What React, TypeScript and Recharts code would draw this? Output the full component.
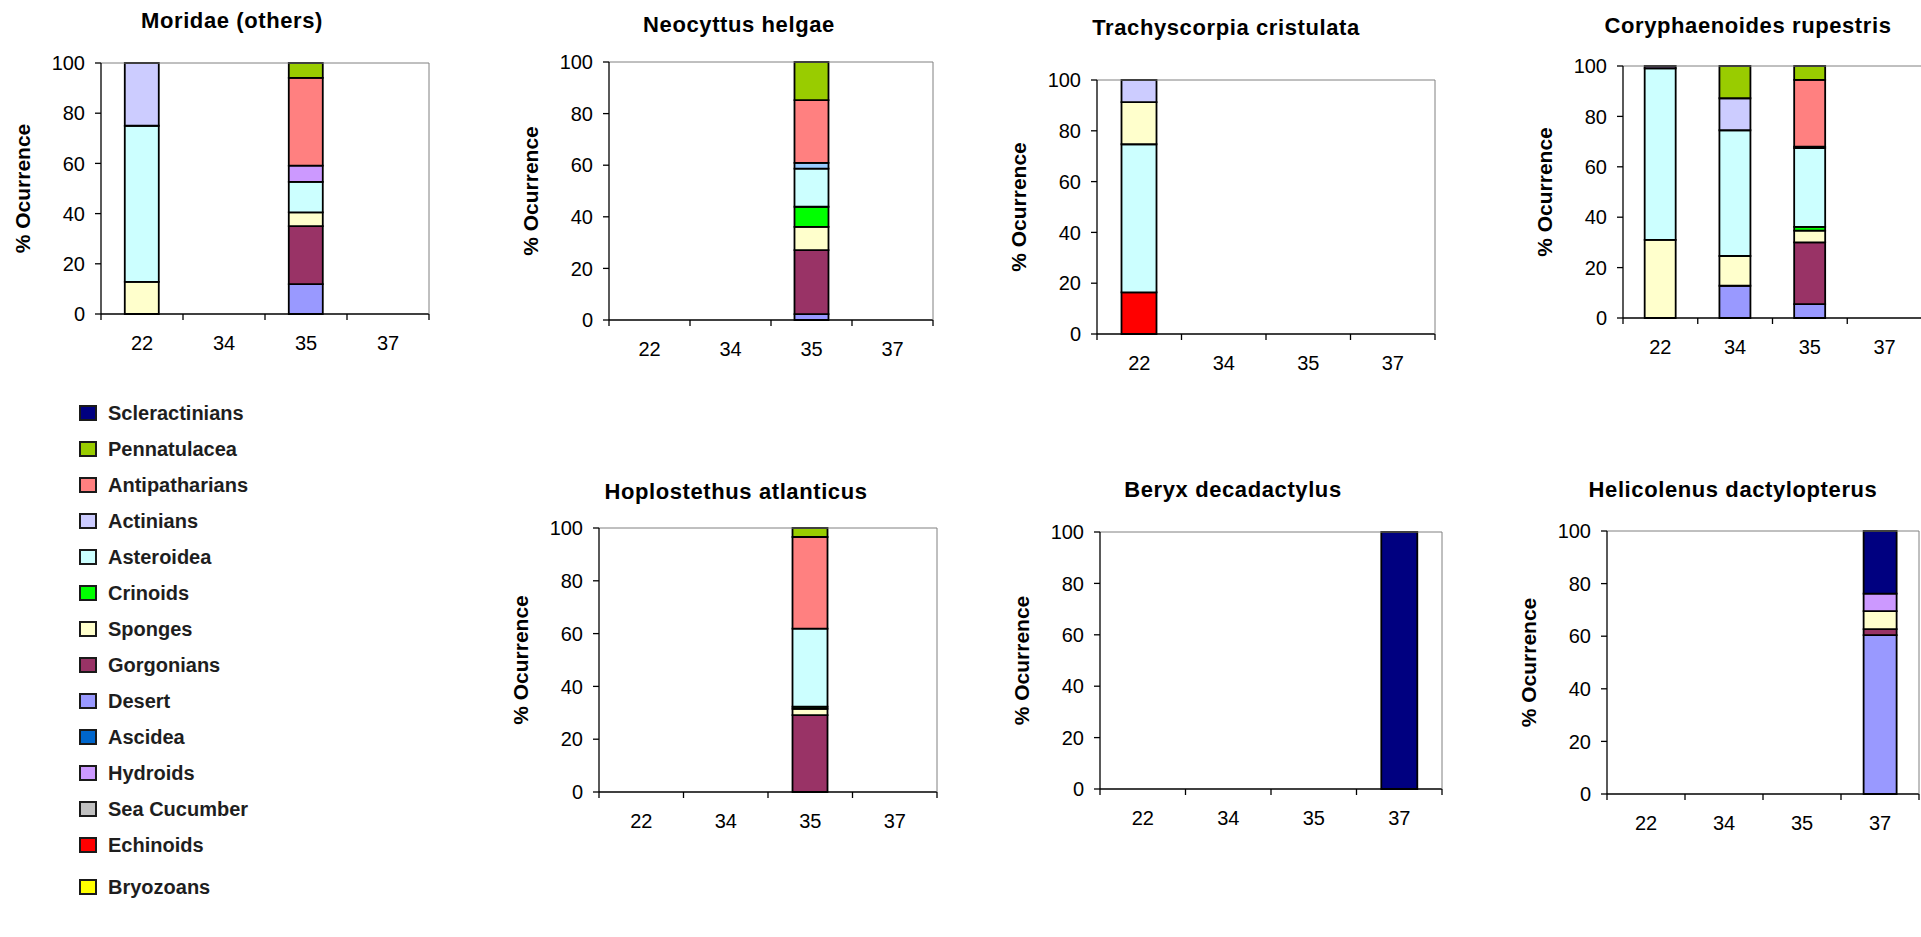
import React from "react";
import { BarChart, Bar, XAxis, YAxis } from "recharts";

const sites = ["22", "34", "35", "37"];
const yTicks = [0, 20, 40, 60, 80, 100];

const legendOrder = [
  "Scleractinians", "Pennatulacea", "Antipatharians", "Actinians", "Asteroidea",
  "Crinoids", "Sponges", "Gorgonians", "Desert", "Ascidea", "Hydroids",
  "Sea Cucumber", "Echinoids", "Bryozoans",
];

const colors: Record<string, string> = {
  Scleractinians: "#000080",
  Pennatulacea: "#99CC00",
  Antipatharians: "#FF8080",
  Actinians: "#CCCCFF",
  Asteroidea: "#CCFFFF",
  Crinoids: "#00FF00",
  Sponges: "#FFFFCC",
  Gorgonians: "#993366",
  Desert: "#9999FF",
  Ascidea: "#0066CC",
  Hydroids: "#CC99FF",
  "Sea Cucumber": "#C0C0C0",
  Echinoids: "#FF0000",
  Bryozoans: "#FFFF00",
  Other: "#99CCFF",
};

// % occurrence per site (22, 34, 35, 37), listed bottom-to-top of each stack
const moridae: Record<string, number[]> = {
  Desert: [0, 0, 11.9, 0],
  Gorgonians: [0, 0, 23.1, 0],
  Sponges: [12.8, 0, 5.5, 0],
  Asteroidea: [62.2, 0, 12.1, 0],
  Hydroids: [0, 0, 6.5, 0],
  Actinians: [25, 0, 0, 0],
  Antipatharians: [0, 0, 35, 0],
  Pennatulacea: [0, 0, 5.9, 0],
};

const neocyttus: Record<string, number[]> = {
  Desert: [0, 0, 2.3, 0],
  Gorgonians: [0, 0, 24.8, 0],
  Sponges: [0, 0, 9, 0],
  Crinoids: [0, 0, 7.8, 0],
  Asteroidea: [0, 0, 14.8, 0],
  Other: [0, 0, 2.2, 0],
  Antipatharians: [0, 0, 24.3, 0],
  Pennatulacea: [0, 0, 14.8, 0],
};

const trachyscorpia: Record<string, number[]> = {
  Echinoids: [16.4, 0, 0, 0],
  Asteroidea: [58.3, 0, 0, 0],
  Sponges: [16.6, 0, 0, 0],
  Actinians: [8.7, 0, 0, 0],
};

const coryphaenoides: Record<string, number[]> = {
  Desert: [0, 12.8, 5.5, 0],
  Gorgonians: [0, 0, 24.5, 0],
  Sponges: [31, 11.8, 4.7, 0],
  Crinoids: [0, 0, 1.5, 0],
  Asteroidea: [68.1, 49.9, 31.2, 0],
  Hydroids: [0.9, 0, 0.6, 0],
  Actinians: [0, 12.7, 0, 0],
  Antipatharians: [0, 0, 26.5, 0],
  Pennatulacea: [0, 12.8, 5.5, 0],
};

const hoplostethus: Record<string, number[]> = {
  Gorgonians: [0, 0, 29.1, 0],
  Sponges: [0, 0, 2.4, 0],
  Crinoids: [0, 0, 0.8, 0],
  Asteroidea: [0, 0, 29.6, 0],
  Antipatharians: [0, 0, 34.7, 0],
  Pennatulacea: [0, 0, 3.4, 0],
};

const beryx: Record<string, number[]> = {
  Scleractinians: [0, 0, 0, 100],
};

const helicolenus: Record<string, number[]> = {
  Desert: [0, 0, 0, 60.4],
  Gorgonians: [0, 0, 0, 2.3],
  Sponges: [0, 0, 0, 6.8],
  Hydroids: [0, 0, 0, 6.7],
  Scleractinians: [0, 0, 0, 23.8],
};

// layout: plot rect [left, top, width, height] and title centre, page pixels
const panels = [
  { title: "Moridae (others)", values: moridae, plot: [101, 63, 328, 251], titleAt: [232, 21] },
  { title: "Neocyttus helgae", values: neocyttus, plot: [609, 62, 324, 258], titleAt: [739, 25] },
  { title: "Trachyscorpia cristulata", values: trachyscorpia, plot: [1097, 80, 338, 254], titleAt: [1226, 28] },
  { title: "Coryphaenoides rupestris", values: coryphaenoides, plot: [1623, 66, 299, 252], titleAt: [1748, 26] },
  { title: "Hoplostethus atlanticus", values: hoplostethus, plot: [599, 528, 338, 264], titleAt: [736, 492] },
  { title: "Beryx decadactylus", values: beryx, plot: [1100, 532, 342, 257], titleAt: [1233, 490] },
  { title: "Helicolenus dactylopterus", values: helicolenus, plot: [1607, 531, 312, 263], titleAt: [1733, 490] },
];

const FONT = "'Liberation Sans', Arial, Helvetica, sans-serif";
const PAD_L = 101, PAD_T = 80, PAD_R = 12, PAD_B = 60;
const TICK_SIZE = 6, TICK_MARGIN = 16;

// Excel puts category tick marks on the band edges, not the centres
function SiteTick(props: any) {
  const { x, y, payload, index, visibleTicksCount } = props;
  const half = payload?.offset ?? 0;
  const axisY = y - TICK_SIZE - TICK_MARGIN;
  const mark = (mx: number) => (
    <line x1={mx} x2={mx} y1={axisY} y2={axisY + TICK_SIZE} stroke="#000" strokeWidth={1.3} />
  );
  return (
    <g>
      {mark(x - half)}
      {index === visibleTicksCount - 1 && mark(x + half)}
      <text x={x} y={y} dy="0.71em" textAnchor="middle" fill="#000" fontSize={20} fontFamily={FONT}>
        {payload.value}
      </text>
    </g>
  );
}

interface PanelProps {
  title: string;
  values: Record<string, number[]>;
  plot: number[];
  titleAt: number[];
}

function Panel({ title, values, plot, titleAt }: PanelProps) {
  const [px, py, pw, ph] = plot;
  const keys = Object.keys(values);
  const data = sites.map((site, i) => {
    const row: Record<string, string | number> = { site };
    keys.forEach((k) => { row[k] = values[k][i]; });
    return row;
  });

  // thin 1px axes are used for the frame; margins absorb them
  return (
    <>
      <div
        style={{
          position: "absolute", left: titleAt[0], top: titleAt[1],
          transform: "translate(-50%, -50%)", whiteSpace: "nowrap",
          fontWeight: "bold", fontSize: 22, letterSpacing: 0.6, color: "#000",
        }}
      >
        {title}
      </div>
      <div style={{ position: "absolute", left: px - PAD_L, top: py - PAD_T }}>
        <BarChart
          width={PAD_L + pw + PAD_R}
          height={PAD_T + ph + PAD_B}
          data={data}
          margin={{ top: PAD_T - 1, right: PAD_R - 1, bottom: PAD_B - 1, left: 0 }}
          barCategoryGap="29%"
        >
          <XAxis
            dataKey="site" height={1} interval={0}
            axisLine={{ stroke: "#000", strokeWidth: 1.3 }} tickLine={false}
            tickSize={TICK_SIZE} tickMargin={TICK_MARGIN}
            tick={<SiteTick />}
          />
          <XAxis
            xAxisId="top" orientation="top" type="number" domain={[0, 4]}
            height={1} tick={false} tickLine={false} axisLine={{ stroke: "#808080" }}
          />
          <YAxis
            domain={[0, 100]} ticks={yTicks} interval={0} width={PAD_L}
            axisLine={{ stroke: "#000", strokeWidth: 1.3 }}
            tickLine={{ stroke: "#000", strokeWidth: 1.3 }}
            tickSize={6} tickMargin={10}
            tick={{ fill: "#000", fontSize: 20, fontFamily: FONT }}
            label={{
              value: "% Ocurrence", angle: -90, position: "insideLeft", offset: 23,
              style: { textAnchor: "middle", fontWeight: "bold", fontSize: 21, fill: "#000", fontFamily: FONT },
            }}
          />
          <YAxis
            yAxisId="right" orientation="right" domain={[0, 100]} width={1}
            tick={false} tickLine={false} axisLine={{ stroke: "#808080" }}
          />
          {keys.map((k) => (
            <Bar
              key={k} dataKey={k} stackId="s" fill={colors[k]}
              stroke="#000" strokeWidth={1.8} isAnimationActive={false}
            />
          ))}
        </BarChart>
      </div>
    </>
  );
}

function Legend() {
  return (
    <div style={{ position: "absolute", left: 79, top: 395 }}>
      {legendOrder.map((name, i) => (
        <div
          key={name}
          style={{
            height: 36, display: "flex", alignItems: "center",
            marginTop: i === legendOrder.length - 1 ? 6 : 0,
          }}
        >
          <div
            style={{
              width: 18, height: 16, boxSizing: "border-box",
              background: colors[name], border: "2px solid #1a1a1a",
            }}
          />
          <span style={{ marginLeft: 11, fontWeight: "bold", fontSize: 20, color: "#1e1e1e" }}>
            {name}
          </span>
        </div>
      ))}
    </div>
  );
}

export default function App() {
  return (
    <div
      style={{
        position: "absolute", left: 0, top: 0, width: 1921, height: 937,
        overflow: "hidden", background: "#fff", fontFamily: FONT,
      }}
    >
      {panels.map((p) => (
        <Panel key={p.title} title={p.title} values={p.values} plot={p.plot} titleAt={p.titleAt} />
      ))}
      <Legend />
    </div>
  );
}
